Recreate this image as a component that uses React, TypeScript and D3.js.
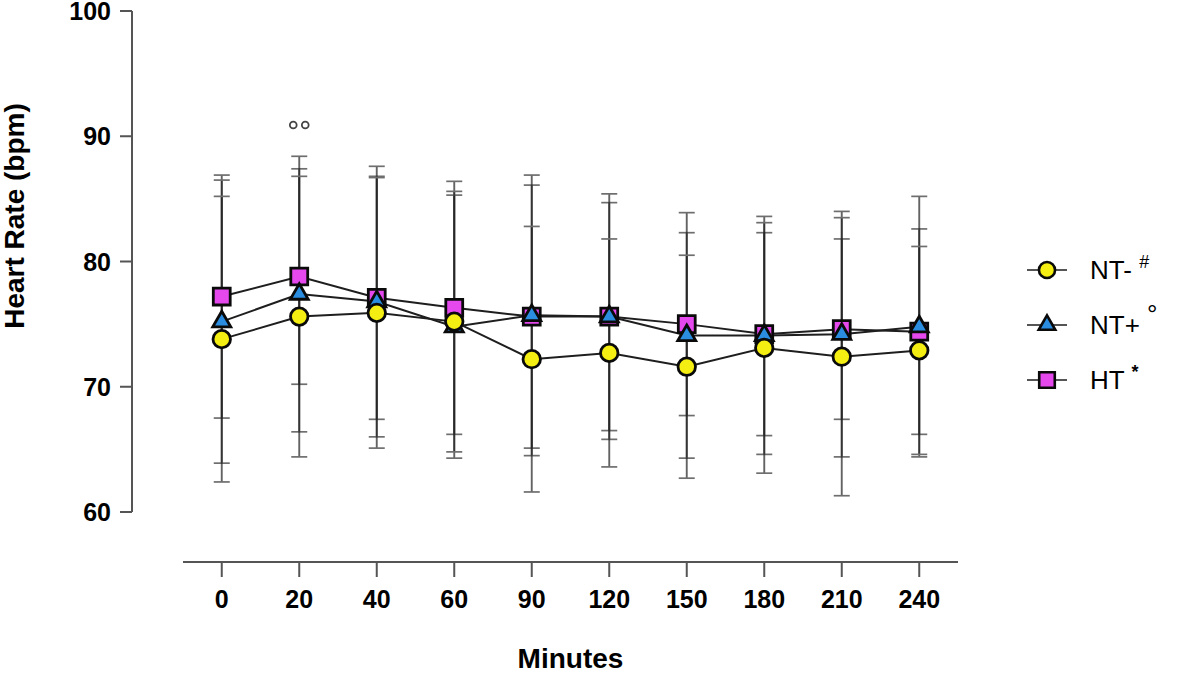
import * as d3 from 'd3'

// time points (minutes) and group means / SDs
const minutes = ['0', '20', '40', '60', '90', '120', '150', '180', '210', '240']

const ntMinusMean = [73.8, 75.6, 75.9, 75.2, 72.2, 72.7, 71.6, 73.1, 72.4, 72.9]
const ntMinusSd = [11.4, 11.2, 10.8, 10.4, 10.6, 9.1, 8.9, 10.0, 11.1, 8.3]

const ntPlusMean = [75.2, 77.4, 76.8, 74.8, 75.7, 75.6, 74.1, 74.1, 74.2, 74.8]
const ntPlusSd = [11.3, 11.0, 10.8, 10.5, 11.2, 9.8, 9.8, 9.5, 9.8, 10.4]

const htMean = [77.2, 78.8, 77.1, 76.3, 75.6, 75.6, 75.0, 74.2, 74.6, 74.4]
const htSd = [9.7, 8.6, 9.7, 10.1, 10.5, 9.1, 7.3, 8.1, 7.2, 8.2]

const yTicks = [60, 70, 80, 90, 100]

const FONT = '"Liberation Sans", Arial, Helvetica, sans-serif'

interface Series {
  name: string
  sup: string
  mean: number[]
  sd: number[]
  symbol: d3.SymbolType
  size: number
  fill: string
}

// drawn bottom-to-top: squares, triangles, then circles
const series: Series[] = [
  { name: 'HT', sup: '*', mean: htMean, sd: htSd, symbol: d3.symbolSquare, size: 285, fill: '#e549ee' },
  { name: 'NT+', sup: '°', mean: ntPlusMean, sd: ntPlusSd, symbol: d3.symbolTriangle, size: 140, fill: '#2b8ddf' },
  { name: 'NT-', sup: '#', mean: ntMinusMean, sd: ntMinusSd, symbol: d3.symbolCircle, size: 240, fill: '#f4ee12' },
]
const legendOrder = ['NT-', 'NT+', 'HT']

export default function App() {
  const width = 1181
  const height = 681

  const x = d3.scalePoint<string>().domain(minutes).range([183, 958]).padding(0.5)
  const y = d3.scaleLinear().domain([60, 100]).range([512, 11])
  const axisLeftX = 132
  const axisBottomY = 562

  const line = d3
    .line<number>()
    .x((_, i) => x(minutes[i]) ?? 0)
    .y(d => y(d))

  const legendY = d3.scalePoint<string>().domain(legendOrder).range([270, 380])

  return (
    <svg
      width={width}
      height={height}
      style={{ position: 'absolute', left: 0, top: 0, background: '#fff' }}
      fontFamily={FONT}
    >
      {/* error bars */}
      {series.map(s => (
        <g key={`err-${s.name}`}>
          {s.mean.map((m, i) => {
            const cx = x(minutes[i]) ?? 0
            const hi = y(m + s.sd[i])
            const lo = y(m - s.sd[i])
            return (
              <g key={i}>
                <line x1={cx} x2={cx} y1={hi} y2={lo} stroke="#222" strokeWidth={1.9} opacity={0.7} />
                <line x1={cx - 8} x2={cx + 8} y1={hi} y2={hi} stroke="#6e6e6e" strokeWidth={1.7} />
                <line x1={cx - 8} x2={cx + 8} y1={lo} y2={lo} stroke="#6e6e6e" strokeWidth={1.7} />
              </g>
            )
          })}
        </g>
      ))}

      {/* connecting lines */}
      {series.map(s => (
        <path key={`line-${s.name}`} d={line(s.mean) ?? ''} fill="none" stroke="#1e1e1e" strokeWidth={2} />
      ))}

      {/* markers */}
      {series.map(s => {
        const path = d3.symbol().type(s.symbol).size(s.size)() ?? ''
        return (
          <g key={`pts-${s.name}`}>
            {s.mean.map((m, i) => (
              <path
                key={i}
                d={path}
                transform={`translate(${x(minutes[i])},${y(m)})`}
                fill={s.fill}
                stroke="#0a0a0a"
                strokeWidth={2.8}
              />
            ))}
          </g>
        )
      })}

      {/* significance marks at 20 min */}
      <circle cx={(x('20') ?? 0) - 6} cy={y(90.9)} r={3.4} fill="none" stroke="#444" strokeWidth={1.8} />
      <circle cx={(x('20') ?? 0) + 6} cy={y(90.9)} r={3.4} fill="none" stroke="#444" strokeWidth={1.8} />

      {/* y axis */}
      <line x1={axisLeftX} x2={axisLeftX} y1={y(100)} y2={y(60)} stroke="#555" strokeWidth={2} />
      {yTicks.map(t => (
        <g key={t} transform={`translate(0,${y(t)})`}>
          <line x1={axisLeftX - 12} x2={axisLeftX} stroke="#555" strokeWidth={2} />
          <text x={axisLeftX - 21} dy="0.36em" textAnchor="end" fontSize={25} fontWeight="bold" fill="#000">
            {t}
          </text>
        </g>
      ))}
      <text
        transform={`translate(24,216) rotate(-90)`}
        textAnchor="middle"
        fontSize={28}
        fontWeight="bold"
        fill="#000"
      >
        Heart Rate (bpm)
      </text>

      {/* x axis */}
      <line x1={x.range()[0]} x2={x.range()[1]} y1={axisBottomY} y2={axisBottomY} stroke="#555" strokeWidth={2} />
      {minutes.map(m => (
        <g key={m} transform={`translate(${x(m)},${axisBottomY})`}>
          <line y1={0} y2={15} stroke="#555" strokeWidth={2} />
          <text y={46} textAnchor="middle" fontSize={25} fontWeight="bold" fill="#000">
            {m}
          </text>
        </g>
      ))}
      <text x={(x.range()[0] + x.range()[1]) / 2} y={668} textAnchor="middle" fontSize={28} fontWeight="bold" fill="#000">
        Minutes
      </text>

      {/* legend */}
      {legendOrder.map(name => {
        const s = series.find(d => d.name === name)!
        const ly = legendY(name) ?? 0
        const path = d3.symbol().type(s.symbol).size(s.size * 0.85)() ?? ''
        return (
          <g key={`leg-${name}`} transform={`translate(0,${ly})`}>
            <line x1={1027} x2={1067} stroke="#555" strokeWidth={1.8} />
            <path d={path} transform="translate(1047,0)" fill={s.fill} stroke="#0a0a0a" strokeWidth={2.6} />
            <text x={1090} dy="0.36em" fontSize={26} fill="#000">
              {s.name}{' '}
              <tspan dy={-11} fontSize={s.sup === '°' ? 26 : 18} fontWeight={s.sup === '*' ? 'bold' : 'normal'}>
                {s.sup}
              </tspan>
            </text>
          </g>
        )
      })}
    </svg>
  )
}
